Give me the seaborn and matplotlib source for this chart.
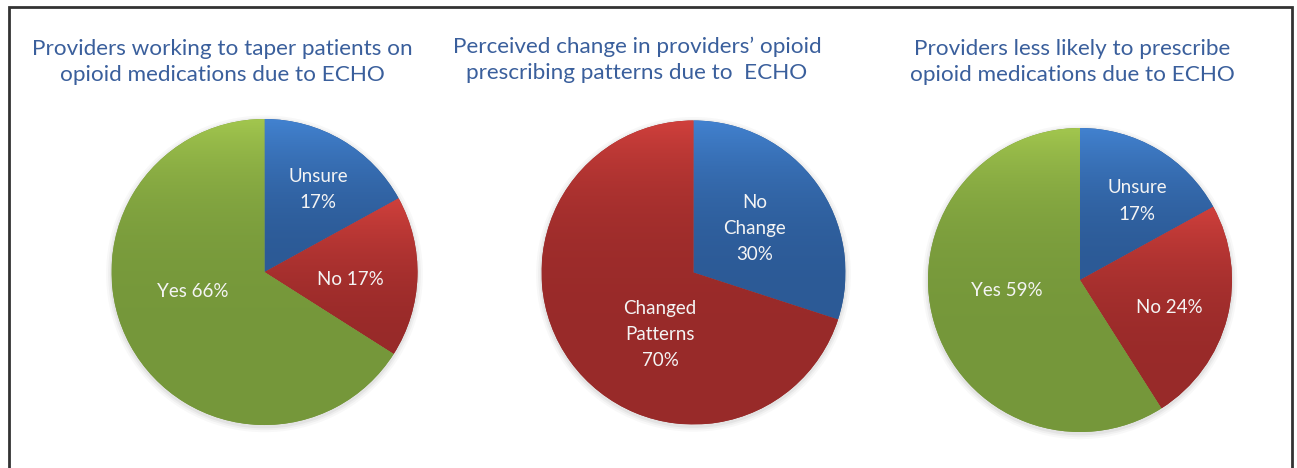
import numpy as np
import matplotlib
matplotlib.use("Agg")
import matplotlib.pyplot as plt
import matplotlib.patches as mpatches
from matplotlib.colors import to_rgb
import seaborn as sns

# Data
titles = [
    "Providers working to taper patients on\nopioid medications due to ECHO",
    "Perceived change in providers\u2019 opioid\nprescribing patterns due to  ECHO",
    "Providers less likely to prescribe\nopioid medications due to ECHO",
]
labels_1 = ["Unsure\n17%", "No 17%", "Yes 66%"]
values_1 = [17, 17, 66]
labels_2 = ["No\nChange\n30%", "Changed\nPatterns\n70%"]
values_2 = [30, 70]
labels_3 = ["Unsure\n17%", "No 24%", "Yes 59%"]
values_3 = [17, 24, 59]

# gradient colours (top, bottom) per category
blue = ("#4282D0", "#2C5A96")
red = ("#D0403C", "#982A29")
green = ("#A2C64E", "#75973A")

sns.set_theme(style="white")
plt.rcParams['font.family'] = ['Lato', 'DejaVu Sans']

W, H = 1297, 468
fig = plt.figure(figsize=(W / 100, H / 100), dpi=100)

# pie placement in pixels: centre x, centre y, radius
layout = [(264.5, 272, 153), (693.5, 272.5, 152), (1080, 280, 152)]
# label spots as fractions of radius
label_xy = [
    [(0.35, 0.54), (0.56, -0.05), (-0.47, -0.13)],
    [(0.40, 0.29), (-0.22, -0.41)],
    [(0.375, 0.52), (0.59, -0.18), (-0.48, -0.066)],
]
title_xy = [(222, 62), (637, 60), (1072, 62)]
pies = [(values_1, labels_1, [blue, red, green]),
        (values_2, labels_2, [blue, red]),
        (values_3, labels_3, [blue, red, green])]


def gradient_fill(ax, wedge, top, bottom):
    bb = wedge.get_path().get_extents()
    # taller wedges reach the base colour sooner
    power = max(1.3, 2.0 * bb.height)
    t = np.linspace(0, 1, 256)
    c_top = np.array(to_rgb(top))
    c_bot = np.array(to_rgb(bottom))
    w = (1 - t) ** power
    img = c_bot[None, :] + (c_top - c_bot)[None, :] * w[:, None]
    img = img[:, None, :]
    im = ax.imshow(img, extent=(bb.x0, bb.x1, bb.y0, bb.y1), origin="upper",
                   aspect="auto", zorder=2, interpolation="bilinear")
    im.set_clip_path(wedge)


for i, ((vals, labs, cols), (cx, cy, r)) in enumerate(zip(pies, layout)):
    ax = fig.add_axes([(cx - r * 1.1) / W, 1 - (cy + r * 1.1) / H,
                       2.2 * r / W, 2.2 * r / H])
    # soft shadow
    for k, a in zip([1.035, 1.022, 1.01], [0.05, 0.07, 0.10]):
        ax.add_patch(mpatches.Circle((0.0, -0.012), k, color="#7f7f7f",
                                     alpha=a, lw=0, zorder=0))
    wedges, _ = ax.pie(vals, startangle=90, counterclock=False, radius=1,
                       colors=[c[1] for c in cols],
                       wedgeprops=dict(linewidth=0))
    for wdg, c in zip(wedges, cols):
        wdg.set_zorder(1)
        gradient_fill(ax, wdg, c[0], c[1])
    for lab, (lx, ly) in zip(labs, label_xy[i]):
        ax.text(lx, ly, lab, ha="center", va="center", color="#F4F4F4",
                fontsize=13.5, linespacing=1.65, zorder=5)
    ax.set_xlim(-1.1, 1.1)
    ax.set_ylim(-1.1, 1.1)
    ax.set_aspect("equal")
    ax.axis("off")

for t, (tx, ty) in zip(titles, title_xy):
    fig.text(tx / W, 1 - ty / H, t, ha="center", va="center",
             color="#3A5F9C", fontsize=16.2, linespacing=1.4)

# outer frame
fig.add_artist(mpatches.Rectangle((8.5 / W, -0.05), (1291.5 - 8.5) / W, 1 - 7 / H + 0.05,
                                  transform=fig.transFigure, fill=False,
                                  edgecolor="#333333", linewidth=2))

fig.savefig("out.png", dpi=100, facecolor="white")
